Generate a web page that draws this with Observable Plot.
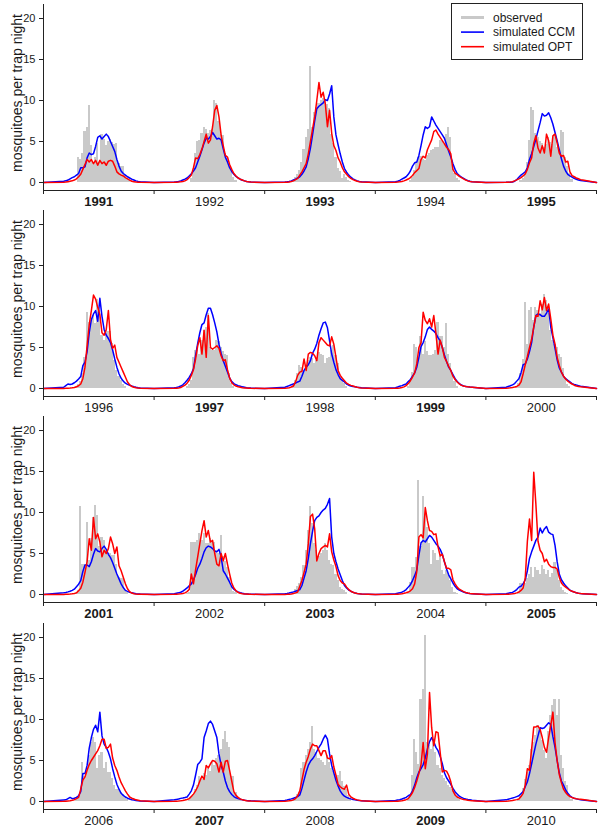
<!DOCTYPE html>
<html>
<head>
<meta charset="utf-8">
<script src="https://cdn.jsdelivr.net/npm/d3@7"></script>
<script src="https://cdn.jsdelivr.net/npm/@observablehq/plot@0.6"></script>
<style>
html, body { margin: 0; padding: 0; background: #fff; }
#chart { position: relative; width: 600px; height: 829px; font-family: "Liberation Sans", Arial, Helvetica, sans-serif; color: #1a1a1a; }
.panel { position: absolute; left: 0; }
.ylab { position: absolute; white-space: nowrap; font-size: 14px; line-height: 16px; transform: translate(-50%, -50%) rotate(-90deg); }
#legend { position: absolute; left: 451px; top: 3px; width: 132px; height: 57px; border: 1px solid #222; background: #fff; box-sizing: border-box; }
</style>
</head>
<body>
<div id="chart"></div>
<script>
// ---------------- DATA ----------------
const years = [1991,1992,1993,1994,1995,1996,1997,1998,1999,2000,2001,2002,2003,2004,2005,2006,2007,2008,2009,2010];
const boldYears = [1991,1993,1995,1997,1999,2001,2003,2005,2007,2009];
const yTicks = [0,5,10,15,20];
const seriesNames = ["observed", "simulated CCM", "simulated OPT"];
const yLabel = "mosquitoes per trap night";
const OBS_FIRST_WEEK = 14;   // observed weekly bars start at week 14
const LINE_FIRST_WEEK = 10;  // simulated weekly values start at week 10
const WEEKS = 52;
const YEAR_EDGE_VALUE = 0;   // simulated value at the turn of each year

// observed mosquitoes per trap night, weeks 14..42
const obs1991 = [0,0,0,3.0,2.8,3.5,6.2,6.7,9.4,4.5,2.5,3.0,4.7,2.5,5.8,5.2,4.5,5.0,5.3,4.9,4.6,4.8,2.3,1.9,2.0,0.9,0.5,0.2,0];
const obs1992 = [0,0,0,0,0.5,1.5,3.5,5.0,5.1,6.0,6.7,6.5,6.0,6.3,6.5,10.0,9.6,7.4,5.9,5.7,3.5,2.9,2.0,1.5,0.6,0.2,0,0,0];
const obs1993 = [0.3,0.6,1.0,1.5,2.5,4.0,5.5,6.5,14.1,6.7,8.5,9.2,9.6,10.0,10.2,10.0,9.5,9.0,5.9,4.7,3.0,1.7,1.3,0.5,1.0,0.6,0.3,0.1,0];
const obs1994 = [0,0,0,0.3,0.6,1.5,2.5,3.1,3.2,2.8,2.7,3.3,3.5,3.9,4.0,4.3,4.3,5.1,5.0,4.6,5.9,6.7,5.5,2.7,1.05,0.5,0.2,0,0];
const obs1995 = [0,0,0,0.2,0.5,1.0,2.5,5.1,9.2,8.8,6.0,5.5,5.0,4.7,4.3,4.6,5.5,4.9,4.6,5.9,4.3,4.0,6.3,6.1,3.1,1.9,1.05,0.4,0];
const obs1996 = [0,0,0.2,0.5,0.9,1.8,3.8,9.3,8.1,8.3,8.9,7.9,10.8,9.5,6.5,5.9,7.1,6.9,6.9,5.5,3.4,2.2,1.5,1.0,0.5,0.2,0,0,0];
const obs1997 = [0,0,0.2,0.5,1.0,3.8,4.6,4.6,4.2,5.9,7.1,7.5,9.1,5.0,4.6,4.6,5.9,5.7,5.0,4.5,4.2,4.0,1.8,0.6,0.2,0,0,0,0];
const obs1998 = [0.5,1.0,1.8,2.8,2.6,2.2,2.8,3.4,3.8,3.6,3.0,3.4,4.4,4.2,4.0,3.0,3.6,3.8,4.6,5.2,4.0,3.0,1.4,1.0,0.6,0.3,0,0,0];
const obs1999 = [0,0,0.2,0.8,2.0,5.4,5.0,3.4,6.3,4.2,5.7,4.5,4.0,4.0,4.2,4.6,8.1,6.3,6.3,5.0,7.9,4.2,3.0,1.8,0.8,0.3,0,0,0];
const obs2000 = [0,0.2,0.6,1.8,3.5,10.5,5.4,9.5,9.9,8.3,9.9,9.5,9.1,10.3,11.5,10.7,9.1,7.1,5.9,5.4,5.0,4.2,3.8,2.5,1.2,0.5,0.2,0,0];
const obs2001 = [0,0,0.2,0.5,10.7,3.7,3.7,8.8,4.1,6.8,9.4,10.9,9.6,5.8,7.0,6.6,5.4,5.0,5.0,4.8,4.8,3.7,2.1,2.0,1.9,0.5,0.2,0,0];
const obs2002 = [0,0,0.1,0.3,6.4,6.4,6.4,6.6,7.4,6.6,7.4,6.2,6.2,6.8,6.4,6.4,5.4,5.0,7.2,4.6,4.0,3.3,2.1,1.0,0.4,0.2,0,0,0];
const obs2003 = [0.3,0.6,1.0,1.3,2.1,3.5,5.4,7.8,10.7,8.6,6.2,5.4,4.6,5.0,5.4,6.2,5.4,4.2,3.7,3.5,2.5,1.7,0.9,0.6,0.5,0.2,0,0,0];
const obs2004 = [0,0,0.3,1.5,3.3,3.3,4.5,13.9,5.8,11.9,9.8,8.2,6.2,3.7,5.4,5.0,4.2,4.6,2.9,2.5,2.9,2.6,1.7,0.9,0.3,0.1,0,0,0];
const obs2005 = [0,0,0.3,1.3,1.0,1.3,2.0,2.5,3.3,2.1,3.3,2.9,2.4,3.5,3.1,2.5,2.9,2.1,2.6,3.9,2.9,1.7,0.9,0.5,0.3,0.1,0,0,0];
const obs2006 = [0,0,0.2,0.5,1.0,4.8,3.1,4.2,5.6,7.2,7.8,7.2,4.0,5.6,6.0,4.0,4.8,3.5,3.5,2.8,1.9,1.5,1.5,1.1,0.8,0.5,0.2,0,0];
const obs2007 = [0,0,0,0.3,0.6,0.9,1.5,2.0,3.1,2.7,3.4,3.2,4.0,3.6,4.8,4.4,5.2,5.6,6.4,7.6,8.5,7.2,6.6,3.1,3.1,1.1,0.5,0.1,0];
const obs2008 = [0.2,0.5,0.9,1.1,4.0,4.8,5.6,6.4,7.2,9.1,6.4,6.0,5.2,5.0,4.8,4.4,5.6,4.8,4.0,3.6,3.2,3.2,3.6,2.4,1.8,1.5,0.7,0.3,0];
const obs2009 = [0,0,0.2,0.6,3.2,7.6,6.0,4.5,12.5,13.7,20.2,7.2,6.8,6.4,7.6,6.0,4.4,4.0,3.2,2.8,2.4,2.0,1.7,1.5,1.1,0.5,0.2,0,0];
const obs2010 = [0,0,0.2,0.8,1.6,2.7,3.5,4.4,6.4,7.2,8.0,9.3,8.5,7.4,6.2,5.2,8.5,10.5,11.7,12.5,10.5,12.5,5.6,4.0,2.4,2.0,0.7,0.2,0];

// simulated CCM, weeks 10..46
const ccm1991 = [0.15,0.2,0.3,0.45,0.6,0.7,0.9,1.1,1.8,1.8,1.9,3.0,3.6,3.4,3.5,4.4,5.5,5.7,5.3,5.6,5.9,5.6,5.0,4.4,3.8,2.8,2.0,1.4,1.1,0.9,0.7,0.55,0.4,0.3,0.2,0.12,0.08];
const ccm1992 = [0.05,0.08,0.12,0.2,0.3,0.4,0.55,0.8,1.05,1.4,1.8,2.5,3.2,4.0,4.8,5.4,5.3,5.6,6.1,5.7,5.3,5.4,5.2,4.1,3.1,2.5,1.8,1.35,1.0,0.75,0.55,0.4,0.28,0.2,0.12,0.08,0.05];
const ccm1993 = [0.05,0.08,0.12,0.2,0.3,0.4,0.55,0.7,1.0,1.4,1.9,2.9,4.2,5.8,7.5,9.0,9.3,9.5,9.7,10.1,10.0,10.8,11.8,8.0,5.8,4.6,3.5,2.5,1.7,1.25,0.9,0.65,0.45,0.32,0.2,0.12,0.08];
const ccm1994 = [0.1,0.15,0.25,0.4,0.55,0.7,1.0,1.4,2.0,2.4,2.5,3.3,4.5,5.8,6.8,6.6,6.8,8.0,7.5,7.0,6.6,6.2,5.8,5.4,4.6,3.8,3.1,2.3,1.6,1.1,0.85,0.65,0.5,0.35,0.22,0.15,0.1];
const ccm1995 = [0.02,0.03,0.04,0.07,0.15,0.35,0.65,0.9,1.1,1.3,1.8,2.8,3.5,4.4,5.3,6.3,7.3,8.4,8.1,8.2,8.5,7.9,7.1,6.1,5.1,4.0,2.9,2.0,1.4,1.0,0.8,0.65,0.5,0.4,0.3,0.25,0.2];
const ccm1996 = [0.15,0.35,0.55,0.5,0.55,0.7,0.9,1.15,1.45,2.8,3.2,4.5,6.8,8.4,9.1,9.5,8.2,11.0,8.8,7.2,6.5,6.1,5.6,4.7,3.6,2.6,1.8,1.25,0.9,0.65,0.5,0.4,0.3,0.22,0.15,0.1,0.07];
const ccm1997 = [0.08,0.12,0.2,0.3,0.45,0.7,1.0,1.35,1.8,2.4,4.0,5.5,6.8,7.8,8.0,9.0,9.8,9.8,9.0,8.0,6.9,5.4,4.3,3.4,2.7,2.0,1.3,0.85,0.6,0.45,0.35,0.28,0.2,0.15,0.1,0.07,0.05];
const ccm1998 = [0.15,0.25,0.35,0.45,0.55,0.65,0.8,0.9,1.5,2.2,2.6,2.9,3.4,4.3,4.8,5.5,6.5,7.3,8.0,8.1,7.4,5.8,4.2,3.2,2.3,1.7,1.2,1.0,0.8,0.55,0.4,0.3,0.25,0.2,0.16,0.13,0.1];
const ccm1999 = [0.1,0.18,0.28,0.35,0.45,0.55,0.85,1.1,1.5,1.9,2.6,3.8,5.1,5.6,6.3,7.2,7.5,7.2,7.0,6.7,6.2,5.8,5.0,4.1,3.3,2.6,2.2,1.7,1.2,0.85,0.6,0.42,0.3,0.25,0.2,0.17,0.15];
const ccm2000 = [0.15,0.25,0.33,0.45,0.6,0.9,1.2,1.9,2.9,3.0,3.6,4.5,5.6,7.5,8.9,9.1,9.0,8.8,8.8,9.2,9.7,7.5,6.2,4.9,3.5,2.5,2.0,1.5,1.2,1.0,0.8,0.6,0.5,0.42,0.35,0.28,0.24];
const ccm2001 = [0.2,0.25,0.32,0.4,0.5,0.65,0.95,1.25,1.7,2.8,3.6,3.6,3.4,4.0,4.9,5.6,5.3,5.2,5.6,5.9,5.5,4.9,4.5,3.9,3.2,2.5,1.9,1.3,0.85,0.5,0.38,0.28,0.2,0.15,0.1,0.07,0.05];
const ccm2002 = [0.1,0.15,0.2,0.28,0.4,0.6,0.8,1.05,1.3,1.8,2.4,3.2,3.7,4.4,5.2,5.7,5.9,5.8,5.6,5.3,5.2,5.5,4.6,2.9,2.5,2.0,1.5,0.95,0.65,0.45,0.32,0.22,0.15,0.1,0.07,0.05,0.04];
const ccm2003 = [0.08,0.12,0.18,0.25,0.32,0.4,0.48,0.6,1.1,2.0,2.9,4.4,6.2,7.7,9.0,9.4,9.6,10.0,10.3,10.5,11.0,11.7,7.0,5.0,4.0,3.1,2.4,1.7,1.1,0.8,0.55,0.4,0.27,0.17,0.12,0.08,0.05];
const ccm2004 = [0.1,0.15,0.2,0.28,0.42,0.6,0.9,1.2,1.7,2.3,3.0,4.8,6.3,6.6,6.4,6.8,7.2,7.0,6.6,6.2,5.9,5.5,4.9,4.0,3.1,2.4,1.9,1.4,1.0,0.7,0.55,0.42,0.3,0.22,0.16,0.12,0.1];
const ccm2005 = [0.1,0.15,0.2,0.25,0.4,0.6,0.9,1.0,1.3,1.8,2.9,4.4,5.2,5.9,6.6,7.0,8.1,7.5,8.0,8.3,7.6,7.4,7.3,6.0,4.0,2.5,1.8,1.4,1.05,0.8,0.52,0.4,0.3,0.2,0.15,0.12,0.1];
const ccm2006 = [0.18,0.2,0.35,0.5,0.35,0.4,0.5,0.7,1.2,3.4,3.4,4.4,6.5,7.8,8.8,9.3,8.5,10.9,8.0,7.0,6.6,6.0,5.2,4.0,3.0,2.1,1.5,1.0,0.75,0.55,0.4,0.3,0.22,0.17,0.12,0.09,0.07];
const ccm2007 = [0.2,0.25,0.3,0.38,0.42,0.48,0.55,0.9,1.3,2.0,3.2,4.5,4.8,5.2,7.8,8.6,9.5,9.8,9.4,8.6,7.8,5.8,4.4,3.6,2.5,1.7,1.2,0.85,0.6,0.45,0.35,0.28,0.2,0.15,0.12,0.1,0.08];
const ccm2008 = [0.12,0.18,0.25,0.32,0.4,0.5,0.6,0.8,1.6,2.6,3.6,4.4,4.9,5.2,5.6,6.1,6.6,7.0,7.6,8.1,7.6,5.8,4.4,3.5,2.6,1.9,1.3,0.9,0.65,0.5,0.4,0.32,0.25,0.2,0.15,0.12,0.1];
const ccm2009 = [0.12,0.18,0.22,0.3,0.4,0.5,0.7,0.85,1.3,2.0,2.9,3.6,4.0,4.5,5.3,6.4,7.3,7.8,7.3,6.6,6.2,5.5,4.6,3.5,2.9,2.5,2.1,1.6,1.2,0.9,0.65,0.5,0.38,0.3,0.24,0.2,0.16];
const ccm2010 = [0.2,0.28,0.35,0.42,0.5,0.6,0.7,0.95,1.2,1.8,2.4,3.4,4.6,5.8,7.0,8.0,9.0,8.9,9.0,9.3,9.6,9.4,7.9,6.6,5.0,3.5,2.5,2.0,1.4,1.0,0.7,0.5,0.4,0.32,0.26,0.21,0.18];

// simulated OPT, weeks 10..46
const opt1991 = [0.02,0.05,0.1,0.15,0.2,0.3,0.45,0.7,1.0,1.6,2.2,2.8,2.5,2.8,2.3,2.7,2.1,2.7,2.3,2.5,2.1,2.6,2.7,2.6,2.0,1.3,1.05,0.9,0.8,0.6,0.45,0.3,0.15,0.1,0.05,0.03,0.02];
const opt1992 = [0.02,0.03,0.05,0.08,0.12,0.2,0.35,0.6,0.9,1.8,3.0,2.9,3.4,4.1,5.0,5.9,4.8,5.2,6.8,8.8,9.4,8.0,5.8,4.5,3.3,3.1,2.2,1.6,1.1,0.8,0.55,0.4,0.3,0.2,0.12,0.08,0.05];
const opt1993 = [0.02,0.04,0.06,0.12,0.2,0.35,0.5,0.9,1.3,1.8,2.3,3.5,5.0,6.5,8.0,10.0,12.2,10.4,11.0,9.6,6.8,8.8,6.0,4.5,3.9,3.0,2.5,1.8,1.3,1.0,0.7,0.5,0.35,0.25,0.15,0.1,0.06];
const opt1994 = [0.03,0.05,0.08,0.12,0.2,0.3,0.42,0.6,0.85,1.2,1.45,1.7,2.8,3.2,3.0,4.0,4.6,5.2,6.2,6.4,5.9,5.5,5.1,4.7,4.3,4.0,3.5,1.6,1.15,0.95,0.75,0.6,0.45,0.3,0.2,0.12,0.08];
const opt1995 = [0.02,0.03,0.05,0.1,0.2,0.32,0.45,0.6,0.8,1.05,1.6,2.4,3.0,4.8,5.7,4.2,3.6,4.5,3.6,5.9,5.1,3.2,5.7,5.9,4.8,3.6,3.2,3.3,2.5,2.6,1.3,0.85,0.7,0.55,0.45,0.35,0.3];
const opt1996 = [0.01,0.02,0.03,0.05,0.08,0.12,0.22,0.33,0.55,1.2,2.6,5.2,7.8,9.5,11.4,10.9,9.9,9.0,6.8,6.5,7.2,9.5,6.0,4.9,5.3,3.8,3.2,2.6,2.0,1.4,0.8,0.45,0.25,0.15,0.1,0.06,0.04];
const opt1997 = [0.02,0.04,0.07,0.12,0.25,0.4,0.65,1.0,1.6,2.3,3.6,5.2,6.2,4.2,7.1,3.8,8.9,5.0,4.8,5.0,5.2,4.9,4.0,3.4,3.5,2.3,1.3,0.7,0.45,0.3,0.2,0.15,0.1,0.07,0.05,0.03,0.02];
const opt1998 = [0.02,0.05,0.1,0.18,0.3,0.8,1.6,2.0,2.1,3.6,2.2,4.2,4.4,4.3,4.0,3.4,5.6,6.2,5.9,5.6,5.3,5.2,6.3,5.4,3.8,2.2,1.6,1.25,0.95,0.65,0.5,0.38,0.3,0.22,0.15,0.1,0.07];
const opt1999 = [0.02,0.04,0.07,0.12,0.2,0.35,0.6,0.95,1.4,1.9,3.0,5.0,5.6,9.3,8.3,7.9,8.5,7.5,8.9,6.7,4.2,5.9,5.0,3.8,3.3,2.7,2.2,1.5,1.1,0.8,0.55,0.38,0.3,0.24,0.2,0.17,0.15];
const opt2000 = [0.03,0.05,0.08,0.12,0.18,0.25,0.4,0.8,1.8,2.9,3.9,5.0,6.0,7.5,8.9,8.8,10.7,9.6,11.1,9.5,10.3,8.5,6.5,5.4,3.8,2.8,2.0,1.5,1.15,0.9,0.7,0.55,0.4,0.3,0.25,0.2,0.17];
const opt2001 = [0.01,0.02,0.03,0.05,0.08,0.12,0.2,0.45,0.75,1.5,2.7,4.0,6.8,5.4,9.4,6.8,7.4,6.4,4.6,5.4,5.0,5.6,7.0,6.2,5.0,5.8,3.5,2.9,2.1,1.3,0.7,0.35,0.18,0.1,0.06,0.04,0.03];
const opt2002 = [0.02,0.03,0.05,0.08,0.12,0.2,0.35,0.6,2.5,1.3,3.0,4.6,6.2,7.8,9.0,7.0,7.8,6.4,6.6,5.0,3.7,3.5,5.0,4.1,5.0,3.7,2.5,1.4,0.8,0.45,0.25,0.15,0.1,0.07,0.05,0.03,0.02];
const opt2003 = [0.01,0.02,0.04,0.07,0.12,0.2,0.3,1.0,1.7,2.7,3.7,6.2,9.5,9.8,8.0,4.1,5.0,5.6,5.8,6.0,5.8,7.4,5.2,4.2,3.4,2.3,1.7,1.4,1.3,0.9,0.6,0.4,0.28,0.18,0.12,0.08,0.05];
const opt2004 = [0.02,0.04,0.06,0.1,0.15,0.22,0.3,0.45,0.7,1.3,2.8,7.0,7.3,6.9,10.6,9.0,7.8,7.7,7.3,7.4,5.8,4.7,4.9,4.0,3.2,3.2,3.0,1.8,1.3,0.9,0.65,0.5,0.35,0.25,0.18,0.12,0.1];
const opt2005 = [0.02,0.03,0.05,0.08,0.12,0.2,0.3,0.5,0.8,2.0,6.5,9.2,6.6,14.9,11.0,6.5,5.4,5.0,4.0,4.3,3.7,3.4,3.3,3.3,3.1,2.1,1.4,1.1,0.9,0.7,0.5,0.4,0.3,0.22,0.16,0.12,0.1];
const opt2006 = [0.02,0.04,0.07,0.1,0.15,0.22,0.35,0.5,1.5,2.6,3.0,3.8,4.5,5.0,5.4,5.8,6.2,6.8,7.6,7.6,6.5,6.6,7.0,5.3,4.4,3.8,3.0,2.3,1.8,1.3,0.9,0.55,0.4,0.3,0.2,0.15,0.1];
const opt2007 = [0.02,0.03,0.05,0.08,0.12,0.18,0.25,0.35,0.6,0.9,1.3,1.8,2.5,3.1,2.7,4.4,4.1,4.6,5.0,4.9,4.6,3.6,4.8,3.6,4.9,5.0,3.8,2.5,1.2,0.75,0.5,0.32,0.2,0.15,0.1,0.07,0.05];
const opt2008 = [0.03,0.05,0.08,0.12,0.2,0.35,0.7,1.3,2.6,3.9,4.8,5.5,6.4,7.0,6.8,6.8,6.2,5.6,6.2,6.2,5.3,5.2,5.6,4.2,3.2,2.1,1.8,1.6,1.5,2.0,0.9,0.55,0.4,0.28,0.2,0.14,0.1];
const opt2009 = [0.02,0.04,0.07,0.1,0.15,0.22,0.35,0.7,1.1,1.7,2.5,3.4,4.5,7.2,4.0,5.8,13.3,9.0,6.8,8.5,8.4,6.0,3.6,3.8,3.7,3.2,2.4,1.3,0.8,0.55,0.42,0.32,0.25,0.2,0.15,0.12,0.1];
const opt2010 = [0.03,0.05,0.08,0.12,0.17,0.23,0.3,0.6,1.0,2.0,4.0,3.8,6.4,9.1,9.1,9.2,8.8,7.8,6.6,6.0,7.8,9.3,10.9,7.2,5.0,3.3,2.3,1.5,1.1,0.8,0.6,0.48,0.4,0.34,0.3,0.27,0.24];

const observed = [obs1991,obs1992,obs1993,obs1994,obs1995,obs1996,obs1997,obs1998,obs1999,obs2000,obs2001,obs2002,obs2003,obs2004,obs2005,obs2006,obs2007,obs2008,obs2009,obs2010];
const simCCM = [ccm1991,ccm1992,ccm1993,ccm1994,ccm1995,ccm1996,ccm1997,ccm1998,ccm1999,ccm2000,ccm2001,ccm2002,ccm2003,ccm2004,ccm2005,ccm2006,ccm2007,ccm2008,ccm2009,ccm2010];
const simOPT = [opt1991,opt1992,opt1993,opt1994,opt1995,opt1996,opt1997,opt1998,opt1999,opt2000,opt2001,opt2002,opt2003,opt2004,opt2005,opt2006,opt2007,opt2008,opt2009,opt2010];

// ---------------- STYLE / LAYOUT ----------------
const GRAY = "#c9c9c9", BLUE = "#0000ff", RED = "#ff0000", INK = "#1a1a1a", AXIS = "#222";
const FONT = '"Liberation Sans", Arial, Helvetica, sans-serif';
const YEARS_PER_PANEL = 5;
const PANEL_TOP = [0, 206, 412, 619];
const Y_DOMAIN = [-0.976, 21.71];
const YLAB_X = 17, YLAB_Y = 93;

const chart = document.getElementById("chart");

function lineData(series, idxs) {
  const pts = [];
  for (const i of idxs) {
    const yr = years[i];
    pts.push({x: yr, v: YEAR_EDGE_VALUE});
    series[i].forEach((v, k) => pts.push({x: yr + (LINE_FIRST_WEEK - 0.5 + k) / WEEKS, v}));
    pts.push({x: yr + 1, v: YEAR_EDGE_VALUE});
  }
  return pts;
}

for (let p = 0; p < 4; p++) {
  const idxs = d3.range(p * YEARS_PER_PANEL, (p + 1) * YEARS_PER_PANEL);
  const pYears = idxs.map(i => years[i]);
  const y0 = pYears[0], y1 = pYears[pYears.length - 1] + 1;
  const bars = [];
  for (const i of idxs) {
    observed[i].forEach((v, k) => {
      if (v > 0) bars.push({x1: years[i] + (OBS_FIRST_WEEK - 1 + k) / WEEKS, x2: years[i] + (OBS_FIRST_WEEK + k) / WEEKS, v});
    });
  }
  const edges = d3.range(y0, y1 + 1);
  const svg = Plot.plot({
    width: 600, height: 212,
    marginLeft: 43, marginRight: 4, marginTop: 4, marginBottom: 22,
    x: {domain: [y0, y1], axis: null},
    y: {domain: Y_DOMAIN, axis: null},
    style: {background: "transparent", overflow: "visible", color: INK, fontFamily: FONT},
    marks: [
      Plot.rect(bars, {x1: "x1", x2: "x2", y1: 0, y2: "v", fill: GRAY, shapeRendering: "crispEdges"}),
      Plot.line(lineData(simCCM, idxs), {x: "x", y: "v", stroke: BLUE, strokeWidth: 1.5}),
      Plot.line(lineData(simOPT, idxs), {x: "x", y: "v", stroke: RED, strokeWidth: 1.5}),
      Plot.ruleX([y0], {y1: Y_DOMAIN[0], y2: Y_DOMAIN[1], stroke: AXIS, strokeWidth: 1}),
      Plot.ruleY([Y_DOMAIN[0]], {x1: y0, x2: y1, stroke: AXIS, strokeWidth: 1}),
      Plot.axisY(yTicks, {tickSize: 4, tickPadding: 4, fontSize: 11, label: null, stroke: AXIS}),
      Plot.axisX(edges, {tickSize: 4, tickFormat: () => "", label: null, stroke: AXIS}),
      Plot.text(pYears.filter(d => boldYears.includes(d)), {x: d => d + 0.5, frameAnchor: "bottom", lineAnchor: "top", dy: 6, fontSize: 13, fontWeight: "bold", fill: INK, text: d => String(d)}),
      Plot.text(pYears.filter(d => !boldYears.includes(d)), {x: d => d + 0.5, frameAnchor: "bottom", lineAnchor: "top", dy: 6, fontSize: 13, fill: INK, text: d => String(d)})
    ]
  });
  svg.classList.add("panel");
  svg.style.top = PANEL_TOP[p] + "px";
  chart.appendChild(svg);

  const lab = document.createElement("div");
  lab.className = "ylab";
  lab.textContent = yLabel;
  lab.style.left = YLAB_X + "px";
  lab.style.top = (PANEL_TOP[p] + YLAB_Y) + "px";
  chart.appendChild(lab);
}

// legend (top panel)
const legend = document.createElement("div");
legend.id = "legend";
const colors = [GRAY, BLUE, RED];
const widths = [3, 1.6, 1.6];
let html = '<svg width="130" height="55" style="display:block">';
seriesNames.forEach((name, i) => {
  const yy = 13.5 + i * 14.6;
  html += `<line x1="9" x2="32" y1="${yy}" y2="${yy}" stroke="${colors[i]}" stroke-width="${widths[i]}"/>`;
  html += `<text x="41" y="${yy + 4.2}" font-size="12" font-family='${FONT}' fill="${INK}">${name}</text>`;
});
html += '</svg>';
legend.innerHTML = html;
chart.appendChild(legend);
</script>
</body>
</html>
